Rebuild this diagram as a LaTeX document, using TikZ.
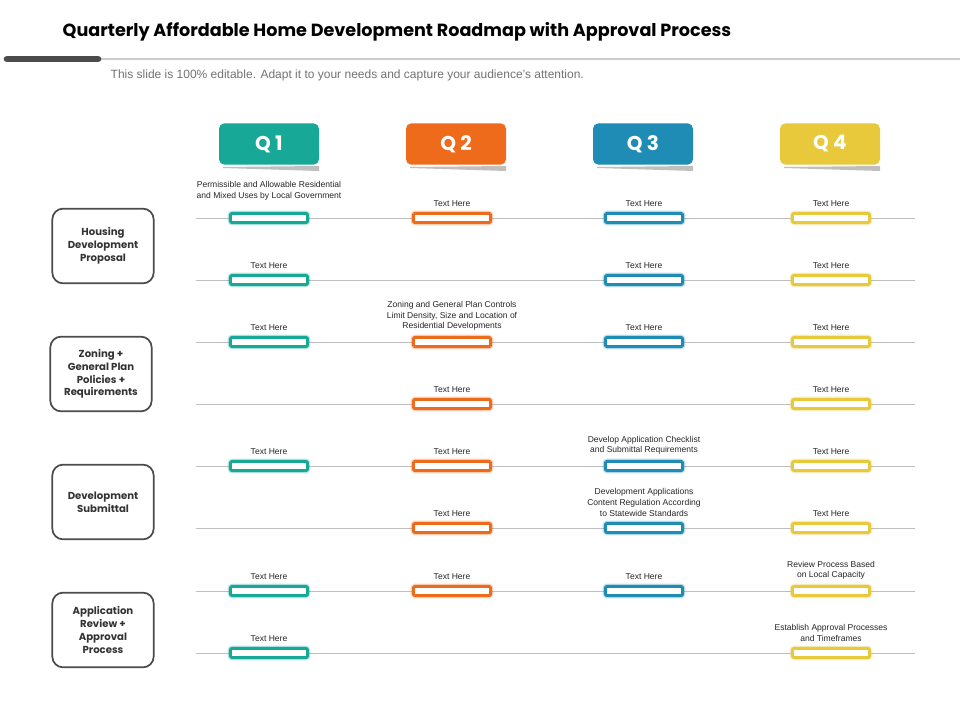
\documentclass[tikz,border=0pt]{standalone}
\usepackage{fontspec}
\setmainfont{Liberation Sans}
\newfontfamily\titlefont{Poppins}
\begin{document}
\begin{tikzpicture}[x=0.75pt,y=-0.75pt,
 bar/.style={draw=#1,line width=2.2pt,fill=white,rounded corners=1.5pt,minimum width=58pt,minimum height=7pt,inner sep=0pt},
 lbl/.style={font=\fontsize{6.4}{8.2}\selectfont,align=center,text=black!85,anchor=south,inner sep=0pt},
 tab/.style={fill=#1,rounded corners=4pt,minimum width=75pt,minimum height=31pt,text=white,font=\titlefont\bfseries\fontsize{15}{15}\selectfont},
 side/.style={draw=black!70,line width=1.3pt,rounded corners=8pt,minimum width=76pt,minimum height=56pt,align=center,font=\titlefont\fontsize{7.6}{9.6}\selectfont\bfseries,text=black!80},
 rowline/.style={draw=black!25,line width=0.6pt}]
\definecolor{cA}{HTML}{17A898}\definecolor{cB}{HTML}{EF6B1C}\definecolor{cC}{HTML}{1E8CB4}\definecolor{cD}{HTML}{E7C93B}
\useasboundingbox (0,0) rectangle (960,720);
\fill[white] (0,0) rectangle (960,720);
\node[anchor=west,font=\titlefont\bfseries\fontsize{13.2}{14}\selectfont] (title) at (58,32) {Quarterly Affordable Home Development Roadmap with Approval Process};
\draw[black!20,line width=1pt] (100,59) -- (960,59);
\draw[black!70,line width=5pt,line cap=round] (7,59) -- (98,59);
\node[anchor=west,font=\fontsize{9}{10}\selectfont,text=black!55] (sub) at (106,75) {This slide is 100\% editable. Adapt it to your needs and capture your audience's attention.};
% tabs
\foreach \x/\c/\t [count=\i] in {269/cA/Q 1,456/cB/Q 2,643/cC/Q 3,830/cD/Q 4}{
 \fill[black!25] (\x-46,167) -- (\x+50,166) -- (\x+50,171) -- (\x-46,168) -- cycle;
 \node[tab=\c] (q\i) at (\x,144) {\t};
}
% row lines
\foreach \y [count=\r] in {218,280,342,404,466,528,591,653}{
 \draw[rowline] (196,\y) coordinate (l\r) -- (915,\y) coordinate (r\r);
}
% side boxes
\node[side] (s1) at (103,246) {Housing\\Development\\Proposal};
\node[side] (s2) at (101,374) {Zoning +\\General Plan\\Policies +\\Requirements};
\node[side] (s3) at (103,502) {Development\\Submittal};
\node[side] (s4) at (103,630) {Application\\Review +\\Approval\\Process};
% bars: row/col/text
\newcommand\cell[4]{%
 \node[bar=#3,draw opacity=0.25,line width=4pt] at (#2,#1) {};
 \node[bar=#3] (b#1x#2) at (#2,#1) {};
 \node[lbl] at (#2,#1-11) {#4};}
\def\A{269}\def\B{452}\def\C{644}\def\D{831}
\cell{218}{\A}{cA}{Permissible and Allowable Residential\\and Mixed Uses by Local Government\\[-2pt]}
\cell{218}{\B}{cB}{Text Here}
\cell{218}{\C}{cC}{Text Here}
\cell{218}{\D}{cD}{Text Here}
\cell{280}{\A}{cA}{Text Here}
\cell{280}{\C}{cC}{Text Here}
\cell{280}{\D}{cD}{Text Here}
\cell{342}{\A}{cA}{Text Here}
\cell{342}{\B}{cB}{Zoning and General Plan Controls\\Limit Density, Size and Location of\\Residential Developments}
\cell{342}{\C}{cC}{Text Here}
\cell{342}{\D}{cD}{Text Here}
\cell{404}{\B}{cB}{Text Here}
\cell{404}{\D}{cD}{Text Here}
\cell{466}{\A}{cA}{Text Here}
\cell{466}{\B}{cB}{Text Here}
\cell{466}{\C}{cC}{Develop Application Checklist\\and Submittal Requirements}
\cell{466}{\D}{cD}{Text Here}
\cell{528}{\B}{cB}{Text Here}
\cell{528}{\C}{cC}{Development Applications\\Content Regulation According\\to Statewide Standards}
\cell{528}{\D}{cD}{Text Here}
\cell{591}{\A}{cA}{Text Here}
\cell{591}{\B}{cB}{Text Here}
\cell{591}{\C}{cC}{Text Here}
\cell{591}{\D}{cD}{Review Process Based\\on Local Capacity}
\cell{653}{\A}{cA}{Text Here}
\cell{653}{\D}{cD}{Establish Approval Processes\\and Timeframes}
\end{tikzpicture}
\end{document}
